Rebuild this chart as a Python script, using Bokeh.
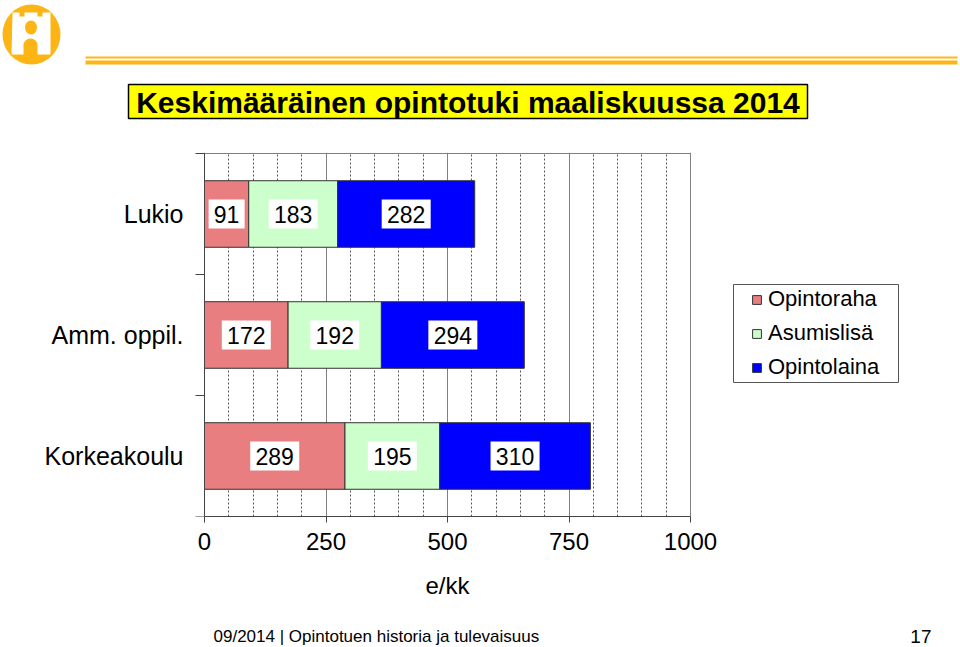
import numpy as np
from bokeh.plotting import figure
from bokeh.layouts import column
from bokeh.models import (FixedTicker, LabelSet, ColumnDataSource, BoxAnnotation,
                          Legend, LegendItem, Range1d)
from bokeh.core.properties import value
from bokeh.embed import file_html
from bokeh.resources import INLINE

# ---- data ----
categories = ["Lukio", "Amm. oppil.", "Korkeakoulu"]
opintoraha = [91, 172, 289]
asumislisa = [183, 192, 195]
opintolaina = [282, 294, 310]
series_names = ["Opintoraha", "Asumislisä", "Opintolaina"]
x_ticks = [0, 250, 500, 750, 1000]
x_label = "e/kk"
title_text = "Keskimääräinen opintotuki maaliskuussa 2014"
footer_text = "09/2014  |  Opintotuen historia ja tulevaisuus"
page_number = "17"

FONT = "Liberation Sans"
ORANGE = "#FDB515"
W = 958
n = len(categories)
ypos = [n - 0.5 - i for i in range(n)]

# page geometry (px)
HEAD_H = 140
MAIN_TOP, MAIN_BOT = 140, 565
FOOT_BOT = 647
X0, X1000 = 204, 690          # page x of values 0 and 1000
FT, FB = 152, 516             # frame top / bottom


def deco_fig(y_top, y_bot):
    f = figure(width=W, height=y_bot - y_top, x_range=Range1d(0, W),
               y_range=Range1d(y_bot, y_top),
               x_axis_type=None, y_axis_type=None, output_backend="svg",
               toolbar_location=None, min_border=0)
    f.outline_line_color = None
    f.grid.visible = False
    f.background_fill_color = "white"
    f.border_fill_color = "white"
    return f


# ---- header ----
hd = deco_fig(0, HEAD_H)
hd.ellipse(x=31, y=34, width=58, height=60, fill_color=ORANGE, line_color=None)
hd.patch([11, 12, 19, 19, 24, 24, 37, 37, 42, 42, 50, 50],
         [54, 12, 12, 16, 16, 12, 12, 16, 16, 12, 12, 54],
         fill_color="white", line_color=None)
hd.ellipse(x=30.5, y=27, width=12, height=14, fill_color=ORANGE, line_color=None)
arc = np.linspace(np.pi, 2 * np.pi, 20)
hd.patch([23] + list(30 + 7 * np.cos(arc)) + [37],
         [55] + list(45 + 7 * np.sin(arc)) + [55],
         fill_color=ORANGE, line_color=None)
hd.quad(left=[85, 85], right=[957, 957], top=[56, 60], bottom=[58, 64],
        fill_color=ORANGE, line_color=None)
hd.quad(left=128, right=807, top=84, bottom=118, fill_color="#FFFF00",
        line_color="black", line_width=1.5)
hd.text(x=[467.5], y=[101.5], text=[title_text], text_align="center",
        text_baseline="middle", text_font=value(FONT),
        text_font_style="bold", text_font_size="30px", text_color="black")

# ---- main chart ----
k = 1000 / (X1000 - X0)
ymax = n * (FB - FT) / (FB - (FT + 1))
p = figure(width=W, height=MAIN_BOT - MAIN_TOP,
           x_range=Range1d(-X0 * k, (W - X0) * k), y_range=Range1d(0, ymax),
           output_backend="svg", toolbar_location=None,
           min_border_left=0, min_border_right=0,
           min_border_top=FT - MAIN_TOP, min_border_bottom=MAIN_BOT - FB)
p.background_fill_color = "white"
p.border_fill_color = "white"
p.outline_line_color = None


def fx(px):
    return px


def fy(py):
    return FB - py


minor = [v for v in range(0, 1001, 50) if v % 250]
p.xaxis.ticker = FixedTicker(ticks=x_ticks, minor_ticks=minor)
p.xaxis.bounds = (x_ticks[0], x_ticks[-1])
p.xaxis.major_tick_out = 6
p.xaxis.major_tick_in = 0
p.xaxis.minor_tick_out = 0
p.xaxis.minor_tick_in = 0
p.xaxis.axis_line_color = "#444444"
p.xaxis.major_tick_line_color = "#444444"
p.xaxis.major_label_text_font = FONT
p.xaxis.major_label_text_font_size = "24px"
p.xaxis.major_label_text_color = "black"
p.xaxis.major_label_standoff = 10

p.yaxis.fixed_location = 0
p.yaxis.bounds = (0, n)
p.yaxis.ticker = FixedTicker(ticks=ypos, minor_ticks=list(range(n + 1)))
p.yaxis.major_label_overrides = {y: c for y, c in zip(ypos, categories)}
p.yaxis.major_tick_out = 0
p.yaxis.major_tick_in = 0
p.yaxis.minor_tick_out = 9
p.yaxis.minor_tick_in = 0
p.yaxis.axis_line_color = "#444444"
p.yaxis.minor_tick_line_color = "#444444"
p.yaxis.major_label_text_font = FONT
p.yaxis.major_label_text_font_size = "25px"
p.yaxis.major_label_text_color = "black"
p.yaxis.major_label_standoff = 12

p.ygrid.grid_line_color = None
p.xgrid.grid_line_color = "#808080"
p.xgrid.grid_line_alpha = 1
p.xgrid.minor_grid_line_color = "#555555"
p.xgrid.minor_grid_line_dash = "2 2"

# top border of the plot area
p.segment(x0=[x_ticks[0]], x1=[x_ticks[-1]], y0=[n], y1=[n],
          line_color="#808080", line_width=1)

# ---- bars ----
a = np.array(opintoraha)
b = np.array(asumislisa)
c = np.array(opintolaina)
txt0 = [str(v) for v in opintoraha]
txt1 = [str(v) for v in asumislisa]
txt2 = [str(v) for v in opintolaina]
src = ColumnDataSource(dict(
    y=ypos,
    l0=[0] * n, r0=a, l1=a, r1=a + b, l2=a + b, r2=a + b + c,
    m0=a / 2, m1=a + b / 2, m2=a + b + c / 2,
    t0=txt0, t1=txt1, t2=txt2,
    w0=[13 * len(t) + 10 for t in txt0],
    w1=[13 * len(t) + 10 for t in txt1],
    w2=[13 * len(t) + 10 for t in txt2],
))
bh = 0.55
r0 = p.hbar(y="y", left="l0", right="r0", height=bh, source=src,
            fill_color="#E97E80", line_color="#333333", line_width=1)
r1 = p.hbar(y="y", left="l1", right="r1", height=bh, source=src,
            fill_color="#CCFFCC", line_color="#333333", line_width=1)
r2 = p.hbar(y="y", left="l2", right="r2", height=bh, source=src,
            fill_color="#0000FF", line_color="#333333", line_width=1)

for m, t, w in (("m0", "t0", "w0"), ("m1", "t1", "w1"), ("m2", "t2", "w2")):
    p.rect(x=m, y="y", width=w, height=29, width_units="screen",
           height_units="screen", source=src, fill_color="white", line_color=None)
    p.add_layout(LabelSet(source=src, x=m, y="y", text=t, text_align="center",
                          text_baseline="middle", text_font=value(FONT),
                          text_font_size=value("23px"), text_color="black"))

# ---- legend ----
p.add_layout(BoxAnnotation(left=fx(733), right=fx(898), top=fy(284), bottom=fy(382),
                           left_units="screen", right_units="screen",
                           top_units="screen", bottom_units="screen",
                           fill_color="white", fill_alpha=0,
                           line_color="#555555", line_width=1, line_alpha=1))
legend = Legend(items=[LegendItem(label=s, renderers=[r]) for s, r in
                       zip(series_names, [r0, r1, r2])],
                location=(fx(745), fy(386)), padding=6, margin=0,
                glyph_width=11, glyph_height=11, label_standoff=6,
                label_height=22, spacing=8,
                label_text_font=FONT, label_text_font_size="22px",
                label_text_color="black",
                background_fill_alpha=0, border_line_alpha=0)
p.add_layout(legend)

# ---- footer (axis title + slide footer) ----
ft = deco_fig(MAIN_BOT, FOOT_BOT)
ft.text(x=[(X0 + X1000) / 2], y=[585], text=[x_label], text_align="center",
        text_baseline="middle", text_font=value(FONT),
        text_font_size="24px", text_color="black")
ft.text(x=[213], y=[636], text=[footer_text], text_align="left",
        text_baseline="middle", text_font=value(FONT),
        text_font_size="17px", text_color="black")
ft.text(x=[931], y=[636], text=[page_number], text_align="right",
        text_baseline="middle", text_font=value(FONT),
        text_font_size="19px", text_color="black")

layout = column(hd, p, ft, spacing=0)
open("out.html", "w").write(file_html(layout, INLINE))
